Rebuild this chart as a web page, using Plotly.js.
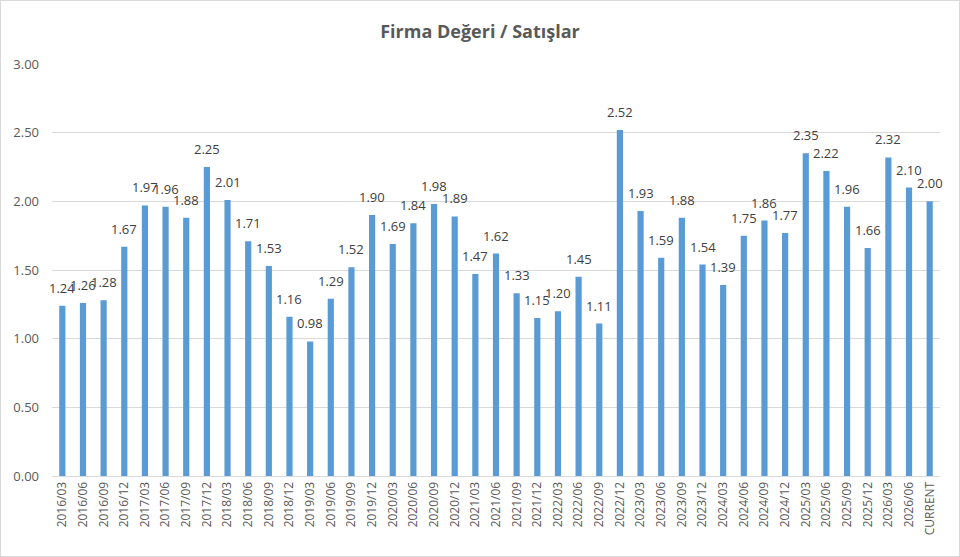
<!DOCTYPE html>
<html><head><meta charset="utf-8">
<script src="https://cdn.plot.ly/plotly-3.0.1.min.js"></script>
<style>html,body{margin:0;padding:0;background:#fff;}#chart{width:958px;height:555px;border:1px solid #D9D9D9;}</style>
</head><body><div id="chart"></div>
<script>
var categories = ["2016/03","2016/06","2016/09","2016/12","2017/03","2017/06","2017/09","2017/12","2018/03","2018/06","2018/09","2018/12","2019/03","2019/06","2019/09","2019/12","2020/03","2020/06","2020/09","2020/12","2021/03","2021/06","2021/09","2021/12","2022/03","2022/06","2022/09","2022/12","2023/03","2023/06","2023/09","2023/12","2024/03","2024/06","2024/09","2024/12","2025/03","2025/06","2025/09","2025/12","2026/03","2026/06","CURRENT"];
var values = [1.24,1.26,1.28,1.67,1.97,1.96,1.88,2.25,2.01,1.71,1.53,1.16,0.98,1.29,1.52,1.90,1.69,1.84,1.98,1.89,1.47,1.62,1.33,1.15,1.20,1.45,1.11,2.52,1.93,1.59,1.88,1.54,1.39,1.75,1.86,1.77,2.35,2.22,1.96,1.66,2.32,2.10,2.00];
var yTicks = [0,0.5,1,1.5,2,2.5,3];

var trace = {
  type:'bar', x:categories, y:values,
  marker:{color:'#5B9BD5'},
  hoverinfo:'x+y'
};
var annotations = categories.map(function(c,i){
  return {x:c, y:values[i], xref:'x', yref:'y', text:values[i].toFixed(2), showarrow:false,
    yanchor:'bottom', xanchor:'center', yshift:7,
    font:{family:'Open Sans, Liberation Sans, sans-serif', size:13, color:'#404040'}};
});
var layout = {
  width:958, height:555,
  margin:{l:51, r:19, t:63, b:80},
  paper_bgcolor:'#fff', plot_bgcolor:'#fff',
  bargap:0.7,
  showlegend:false,
  annotations:annotations,
  title:{text:'<b>Firma Değeri / Satışlar</b>', x:0.5, xanchor:'center', y:0.945, yanchor:'middle',
    font:{family:'Open Sans, sans-serif', size:18, color:'#595959'}},
  xaxis:{type:'category', range:[-0.5, categories.length-0.5], autorange:false, tickangle:-90,
    tickfont:{family:'Open Sans, Liberation Sans, sans-serif', size:12, color:'#595959'},
    showline:true, linecolor:'#D9D9D9', linewidth:1, ticks:'', showgrid:false, automargin:false},
  yaxis:{range:[0,3], autorange:false, tickvals:yTicks, ticktext:yTicks.map(function(v){return v.toFixed(2);}),
    tickfont:{family:'Open Sans, Liberation Sans, sans-serif', size:13, color:'#595959'},
    ticklabelstandoff:12,
    gridcolor:'#D9D9D9', gridwidth:1, zeroline:false, showline:false, ticks:'', ticklen:0, automargin:false}
};
Plotly.newPlot('chart',[trace],layout,{displayModeBar:false, staticPlot:true});
</script></body></html>
